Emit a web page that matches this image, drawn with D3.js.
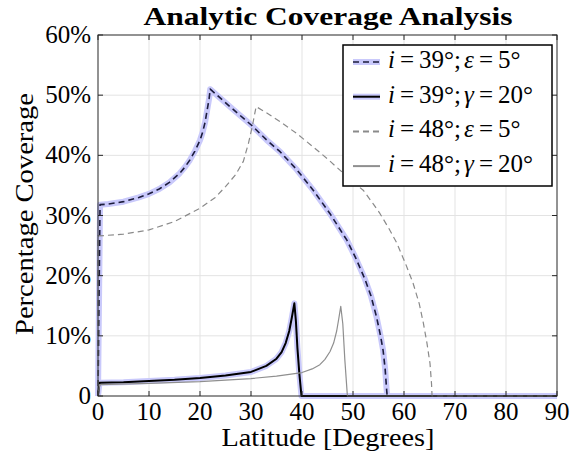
<!DOCTYPE html>
<html>
<head>
<meta charset="utf-8">
<script src="https://cdn.jsdelivr.net/npm/d3@7/dist/d3.min.js"></script>
<style>
  body { margin: 0; background: #fff; }
  svg text { font-family: "Liberation Serif", "Times New Roman", serif; fill: #000; }
</style>
</head>
<body>
<div id="chart"></div>
<script>
// data (latitude in degrees, coverage in %)
var lat39eps = [0, 0.4, 2, 5, 8, 10, 12, 14, 16, 17, 18, 19, 20, 20.5, 21, 21.4, 21.8, 22, 26, 30.1, 33, 35.7, 39, 42.2, 45.5, 48.8, 50.5, 52.3, 53.5, 54.6, 55.4, 55.9, 56.3, 56.6, 56.7, 90];
var cov39eps = [0, 31.8, 31.9, 32.3, 33, 33.6, 34.4, 35.5, 37, 38, 39.2, 40.7, 42.5, 43.8, 45.5, 47.5, 49.5, 51, 48, 45, 42.6, 40.6, 37.6, 34.2, 30.3, 25.9, 23, 19.5, 16.7, 13.2, 10, 7.6, 4.5, 1, 0, 0];

var lat39gam = [0, 0.3, 5, 10, 15, 20, 25, 30, 33, 35, 36, 36.8, 37.5, 38, 38.5, 38.8, 39.1, 39.5, 39.9, 90];
var cov39gam = [0, 2.2, 2.3, 2.5, 2.7, 3.0, 3.4, 4.0, 5.0, 6.2, 7.3, 8.8, 10.8, 13, 15.4, 12.5, 8, 3.5, 0, 0];

var lat48eps = [0, 0, 5, 10, 15, 20, 23, 25, 27, 28.5, 29.5, 30.3, 31, 33, 35.7, 39, 42.2, 45, 47.5, 50, 52, 54, 55.3, 57, 58.6, 60.3, 61.8, 63, 63.8, 64.5, 65.1, 65.4, 65.5, 90];
var cov48eps = [0, 26.6, 26.9, 27.6, 29, 31.2, 33, 34.8, 36.8, 39, 42, 45, 48.1, 47.1, 45.6, 43.6, 41.4, 39.4, 37.5, 35.6, 34.2, 31.9, 30.3, 27.9, 25.4, 22, 18.7, 15.3, 12.1, 8.8, 5.4, 2, 0, 0];

var lat48gam = [0, 0.3, 10, 20, 30, 35, 40, 42, 43.5, 44.5, 45.5, 46.2, 46.8, 47.2, 47.6, 48, 48.4, 48.9, 90];
var cov48gam = [0, 1.9, 2.1, 2.4, 2.9, 3.3, 3.9, 4.5, 5.2, 6.1, 7.4, 8.8, 10.8, 12.8, 14.9, 12, 6, 0, 0];

var xTicks = [0, 10, 20, 30, 40, 50, 60, 70, 80, 90];
var yTicks = [0, 10, 20, 30, 40, 50, 60];

var width = 570, height = 461;
var mLeft = 98, mRight = 557, mTop = 35, mBottom = 396;

var svg = d3.select("#chart").append("svg")
    .attr("width", width)
    .attr("height", height);

var x = d3.scaleLinear().domain([0, 90]).range([mLeft, mRight]);
var y = d3.scaleLinear().domain([0, 60]).range([mBottom, mTop]);

// grid
svg.append("g").selectAll("line").data(xTicks.slice(1, -1)).enter().append("line")
    .attr("x1", function (d) { return x(d); }).attr("x2", function (d) { return x(d); })
    .attr("y1", mTop).attr("y2", mBottom)
    .attr("stroke", "#e3e3e3").attr("stroke-width", 1);
svg.append("g").selectAll("line").data(yTicks.slice(1, -1)).enter().append("line")
    .attr("x1", mLeft).attr("x2", mRight)
    .attr("y1", function (d) { return y(d); }).attr("y2", function (d) { return y(d); })
    .attr("stroke", "#e3e3e3").attr("stroke-width", 1);

function pts(xs, ys) {
    return xs.map(function (v, i) { return [v, ys[i]]; });
}

var line = d3.line()
    .x(function (d) { return x(d[0]); })
    .y(function (d) { return y(d[1]); });

var series = [
    { name: "s1", data: pts(lat39eps, cov39eps), color: "#1c1c3c", width: 1.6, dash: "6,4", halo: true },
    { name: "s2", data: pts(lat39gam, cov39gam), color: "#000", width: 2, dash: null, halo: true },
    { name: "s3", data: pts(lat48eps, cov48eps), color: "#8a8a8a", width: 1.2, dash: "6,4", halo: false },
    { name: "s4", data: pts(lat48gam, cov48gam), color: "#8f8f8f", width: 1.2, dash: null, halo: false }
];

var plot = svg.append("g");

// light blue highlight behind the i=39 curves
series.filter(function (s) { return s.halo; }).forEach(function (s) {
    plot.append("path")
        .datum(s.data)
        .attr("d", line)
        .attr("fill", "none")
        .attr("stroke", "#c9c9fb")
        .attr("stroke-width", 6)
        .attr("stroke-linejoin", "round");
});

series.forEach(function (s) {
    plot.append("path")
        .datum(s.data)
        .attr("d", line)
        .attr("fill", "none")
        .attr("stroke", s.color)
        .attr("stroke-width", s.width)
        .attr("stroke-dasharray", s.dash)
        .attr("stroke-linejoin", "round");
});

// frame
svg.append("rect")
    .attr("x", mLeft).attr("y", mTop)
    .attr("width", mRight - mLeft).attr("height", mBottom - mTop)
    .attr("fill", "none").attr("stroke", "#262626").attr("stroke-width", 1);

// inward ticks on all sides
var tk = 5;
var tg = svg.append("g").attr("stroke", "#262626").attr("stroke-width", 1);
xTicks.forEach(function (d) {
    tg.append("line").attr("x1", x(d)).attr("x2", x(d)).attr("y1", mBottom).attr("y2", mBottom - tk);
    tg.append("line").attr("x1", x(d)).attr("x2", x(d)).attr("y1", mTop).attr("y2", mTop + tk);
});
yTicks.forEach(function (d) {
    tg.append("line").attr("x1", mLeft).attr("x2", mLeft + tk).attr("y1", y(d)).attr("y2", y(d));
    tg.append("line").attr("x1", mRight).attr("x2", mRight - tk).attr("y1", y(d)).attr("y2", y(d));
});

// tick labels
svg.append("g").selectAll("text").data(xTicks).enter().append("text")
    .attr("x", function (d) { return x(d); })
    .attr("y", mBottom + 24)
    .attr("text-anchor", "middle")
    .attr("font-size", 25)
    .text(function (d) { return d; });

svg.append("g").selectAll("text").data(yTicks).enter().append("text")
    .attr("x", mLeft - 7)
    .attr("y", function (d) { return y(d) + 8; })
    .attr("text-anchor", "end")
    .attr("font-size", 25)
    .text(function (d) { return d === 0 ? "0" : d + "%"; });

// title and axis labels
svg.append("text")
    .attr("x", 328).attr("y", 25)
    .attr("text-anchor", "middle")
    .attr("font-size", 25)
    .attr("font-weight", "bold")
    .attr("textLength", 369)
    .attr("lengthAdjust", "spacingAndGlyphs")
    .text("Analytic Coverage Analysis");

svg.append("text")
    .attr("x", 328).attr("y", 446)
    .attr("text-anchor", "middle")
    .attr("font-size", 25)
    .attr("textLength", 213)
    .attr("lengthAdjust", "spacingAndGlyphs")
    .text("Latitude [Degrees]");

svg.append("text")
    .attr("transform", "translate(33,214) rotate(-90)")
    .attr("text-anchor", "middle")
    .attr("font-size", 25)
    .attr("textLength", 242)
    .attr("lengthAdjust", "spacingAndGlyphs")
    .text("Percentage Coverage");

// legend
var legendItems = [
    { s: series[0], i: "39", sym: "\u03b5", v: "5" },
    { s: series[1], i: "39", sym: "\u03b3", v: "20" },
    { s: series[2], i: "48", sym: "\u03b5", v: "5" },
    { s: series[3], i: "48", sym: "\u03b3", v: "20" }
];

var lg = svg.append("g");
lg.append("rect")
    .attr("x", 343).attr("y", 45)
    .attr("width", 209).attr("height", 141)
    .attr("fill", "#fff").attr("stroke", "#000").attr("stroke-width", 1.5);

legendItems.forEach(function (d, k) {
    var cy = 62 + k * 34.7;
    if (d.s.halo) {
        lg.append("line").attr("x1", 353).attr("x2", 380).attr("y1", cy).attr("y2", cy)
            .attr("stroke", "#c9c9fb").attr("stroke-width", 6);
    }
    lg.append("line").attr("x1", 353).attr("x2", 380).attr("y1", cy).attr("y2", cy)
        .attr("stroke", d.s.color)
        .attr("stroke-width", d.s.halo ? d.s.width : 2)
        .attr("stroke-dasharray", d.s.dash);
    var t = lg.append("text").attr("x", 388).attr("y", cy + 6).attr("font-size", 25);
    t.append("tspan").attr("font-style", "italic").text("i");
    t.append("tspan").attr("dx", 5).text("=");
    t.append("tspan").attr("dx", 5).text(d.i + "°;");
    t.append("tspan").attr("dx", 3).attr("font-style", "italic").text(d.sym);
    t.append("tspan").attr("dx", 5).text("=");
    t.append("tspan").attr("dx", 5).text(d.v + "°");
});
</script>
</body>
</html>
